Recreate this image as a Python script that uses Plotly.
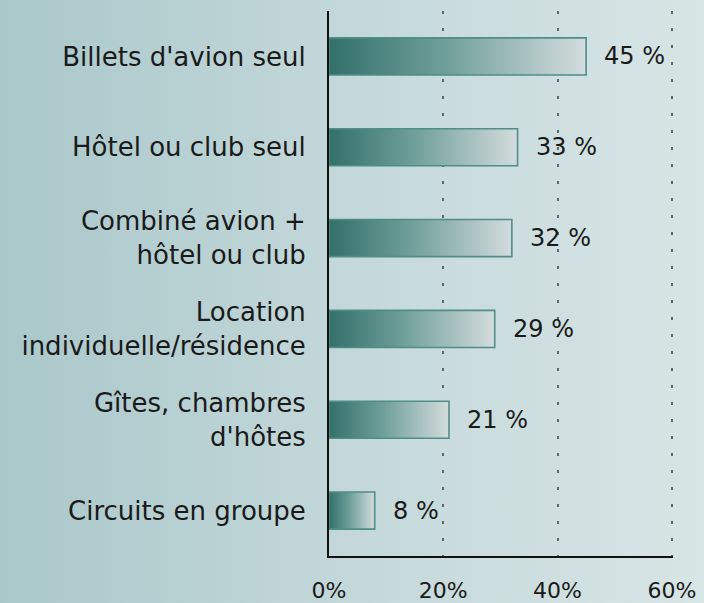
import plotly.graph_objects as go
import base64

categories = [
    "Billets d'avion seul",
    "Hôtel ou club seul",
    "Combiné avion +<br>hôtel ou club",
    "Location<br>individuelle/résidence",
    "Gîtes, chambres<br>d'hôtes",
    "Circuits en groupe",
]
values = [45, 33, 32, 29, 21, 8]
x_ticks = [0, 20, 40, 60]
x_tick_labels = ["0%", "20%", "40%", "60%"]

FONT = "DejaVu Sans"
n = len(categories)
ypos = list(range(n - 1, -1, -1))
half = 0.204

fig = go.Figure()

for v, y in zip(values, ypos):
    fig.add_trace(go.Scatter(
        x=[0, v, v, 0, 0],
        y=[y - half, y - half, y + half, y + half, y - half],
        mode="lines",
        fill="toself",
        fillgradient=dict(
            type="horizontal",
            colorscale=[[0, "#33706a"], [0.45, "#6f9f9a"], [1, "#d3dcdc"]],
        ),
        line=dict(color="#4f8d87", width=1.6),
        hoverinfo="skip",
        showlegend=False,
    ))

for v, y in zip(values, ypos):
    fig.add_annotation(
        x=v, y=y, text=f"{v} %", showarrow=False,
        xanchor="left", yanchor="middle", xshift=16,
        font=dict(family=FONT, size=24, color="#1a1a1a"),
    )

svg = ('<svg xmlns="http://www.w3.org/2000/svg" width="704" height="603">'
       '<defs><linearGradient id="g" x1="0" y1="0" x2="1" y2="0">'
       '<stop offset="0" stop-color="#a9c7ca"/>'
       '<stop offset="0.5" stop-color="#c4d8da"/>'
       '<stop offset="1" stop-color="#d8e5e5"/>'
       '</linearGradient></defs>'
       '<rect width="704" height="603" fill="url(#g)"/></svg>')
src = "data:image/svg+xml;base64," + base64.b64encode(svg.encode()).decode()

L, R, T, B = 329, 31, 11, 47
W, H = 704, 603
pw, ph = W - L - R, H - T - B
fig.add_layout_image(
    source=src, xref="paper", yref="paper",
    x=-(L + 10) / pw, y=1 + (T + 10) / ph, sizex=(W + 20) / pw, sizey=(H + 20) / ph,
    xanchor="left", yanchor="top", sizing="stretch", layer="below",
)

fig.update_layout(
    width=W, height=H,
    margin=dict(l=L, r=R, t=T, b=B, autoexpand=False),
    paper_bgcolor="#c4d8da",
    plot_bgcolor="rgba(0,0,0,0)",
    font=dict(family=FONT, size=26, color="#1a1a1a"),
    xaxis=dict(
        range=[0, 60.2], tickvals=x_ticks, ticktext=x_tick_labels,
        showgrid=True, gridcolor="#5a6a6a", gridwidth=1.5, griddash="3px,14px",
        zeroline=False, showline=True, linecolor="#111111", linewidth=2,
        ticks="", ticklabelstandoff=14, automargin=False,
        tickfont=dict(family=FONT, size=22, color="#1a1a1a"),
        fixedrange=True,
    ),
    yaxis=dict(
        range=[-0.5, n - 0.5], tickvals=ypos, ticktext=categories,
        showgrid=False, zeroline=False, showline=True, linecolor="#111111",
        linewidth=2, ticks="", ticklabelstandoff=16, automargin=False,
        tickfont=dict(family=FONT, size=26, color="#1a1a1a"),
        fixedrange=True,
    ),
)

fig.write_html(
    "out.html",
    config={"displayModeBar": False},
    post_script=("document.body.style.margin='0';"
                 "document.body.style.overflow='hidden';"
                 "document.body.style.background='#c4d8da';"),
)
